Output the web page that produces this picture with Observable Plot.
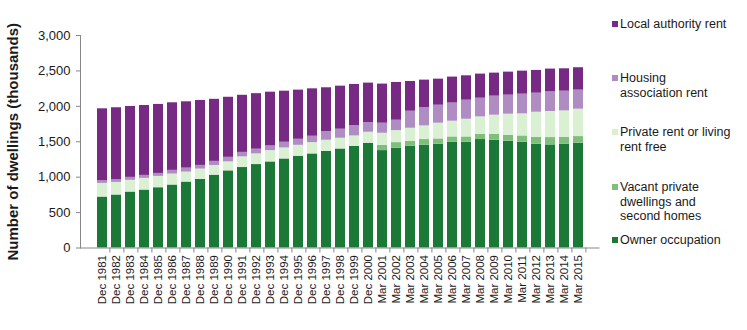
<!DOCTYPE html>
<html><head><meta charset="utf-8">
<script src="https://cdn.jsdelivr.net/npm/d3@7"></script>
<script src="https://cdn.jsdelivr.net/npm/@observablehq/plot@0.6"></script>
<style>
body{margin:0;background:#fff;font-family:"Liberation Sans",Arial,sans-serif;}
#wrap{position:relative;width:747px;height:330px;overflow:hidden;}
.lg{position:absolute;left:620px;font-size:12.5px;line-height:14.5px;color:#1a1a1a;white-space:nowrap;}
.sw{position:absolute;left:-8px;top:4px;width:6px;height:6px;}
g[aria-label="y-axis label"] text{font-weight:bold;font-size:15px;}
</style></head><body><div id="wrap"></div>
<script>
const periods = ["Dec 1981","Dec 1982","Dec 1983","Dec 1984","Dec 1985","Dec 1986","Dec 1987","Dec 1988","Dec 1989","Dec 1990","Dec 1991","Dec 1992","Dec 1993","Dec 1994","Dec 1995","Dec 1996","Dec 1997","Dec 1998","Dec 1999","Dec 2000","Mar 2001","Mar 2002","Mar 2003","Mar 2004","Mar 2005","Mar 2006","Mar 2007","Mar 2008","Mar 2009","Mar 2010","Mar 2011","Mar 2012","Mar 2013","Mar 2014","Mar 2015"];
const ownerOccupation = [719,748,790,818,851,889,931,969,1028,1089,1136,1178,1215,1257,1295,1328,1365,1398,1436,1479,1375,1408,1436,1450,1465,1493,1493,1531,1521,1507,1493,1465,1455,1465,1479];
const vacantPrivate = [0,0,0,0,0,0,0,0,0,0,0,0,0,0,0,0,0,0,0,0,75,80,71,81,75,75,75,75,85,85,89,99,104,99,94];
const privateRent = [193,178,165,165,160,155,141,145,137,127,151,151,160,156,155,160,156,151,146,155,170,170,184,193,222,222,250,245,269,297,312,353,368,372,387];
const housingAssociation = [38,38,42,42,42,52,56,52,58,64,63,66,66,80,85,90,123,128,147,137,142,146,240,259,254,257,269,264,269,269,278,269,278,278,269];
const localAuthority = [1015,1016,1001,987,974,954,936,917,876,848,806,784,759,721,694,669,618,608,580,557,552,533,420,387,368,366,344,340,325,325,325,321,321,316,316];
const tenures = ["Owner occupation","Vacant private dwellings and second homes","Private rent or living rent free","Housing association rent","Local authority rent"];
const legendLines = [["Local authority rent"],["Housing","association rent"],["Private rent or living","rent free"],["Vacant private","dwellings and","second homes"],["Owner occupation"]];
const colors = ["#1b7837","#7fbf7b","#d9f0d3","#af8dc3","#762a83"];
const yTicks = [0,500,1000,1500,2000,2500,3000];

const series = [ownerOccupation, vacantPrivate, privateRent, housingAssociation, localAuthority];
const rows = [];
tenures.forEach((t, k) => periods.forEach((p, i) => rows.push({period: p, tenure: t, value: series[k][i]})));

const W = 747, ML = 80, MR = 147.5;
const padIn = 0.257, padOut = 0.18;
const step = (W - ML - MR) / (periods.length - padIn + 2 * padOut);
const axisColor = "#868686";

const chart = Plot.plot({
  width: W, height: 330,
  marginLeft: ML, marginRight: MR, marginTop: 35, marginBottom: 82.5,
  style: {fontFamily: '"Liberation Sans", Arial, sans-serif', fontSize: "11px", color: "#1a1a1a", background: "#fff"},
  x: {domain: periods, paddingInner: padIn, paddingOuter: padOut, axis: null},
  y: {domain: [0, 3000], axis: null},
  color: {domain: tenures, range: colors},
  marks: [
    Plot.barY(rows, {x: "period", y: "value", fill: "tenure"}),
    Plot.frame({anchor: "left", stroke: axisColor}),
    Plot.ruleY([0], {stroke: axisColor}),
    Plot.axisY({ticks: yTicks, tickSize: 4, tickPadding: 6, tickFormat: d3.format(","), stroke: axisColor, fontSize: 13,
      label: "Number of dwellings (thousands)", labelAnchor: "center", labelArrow: "none", labelOffset: 73}),
    Plot.axisX({tickSize: 0, tickRotate: -90, tickPadding: 7, label: null, fontSize: 11.5}),
    Plot.axisX({tickSize: 5, tickFormat: () => "", dx: step / 2, stroke: axisColor, label: null})
  ]
});
const wrap = document.getElementById("wrap");
wrap.appendChild(chart);

const tops = [17, 71, 125, 180, 233];
tenures.slice().reverse().forEach((t, j) => {
  const k = tenures.length - 1 - j;
  const d = document.createElement("div");
  d.className = "lg";
  d.style.top = tops[j] + "px";
  d.innerHTML = legendLines[j].join("<br>");
  const s = document.createElement("span");
  s.className = "sw";
  s.style.background = colors[k];
  d.appendChild(s);
  wrap.appendChild(d);
});
</script></body></html>
